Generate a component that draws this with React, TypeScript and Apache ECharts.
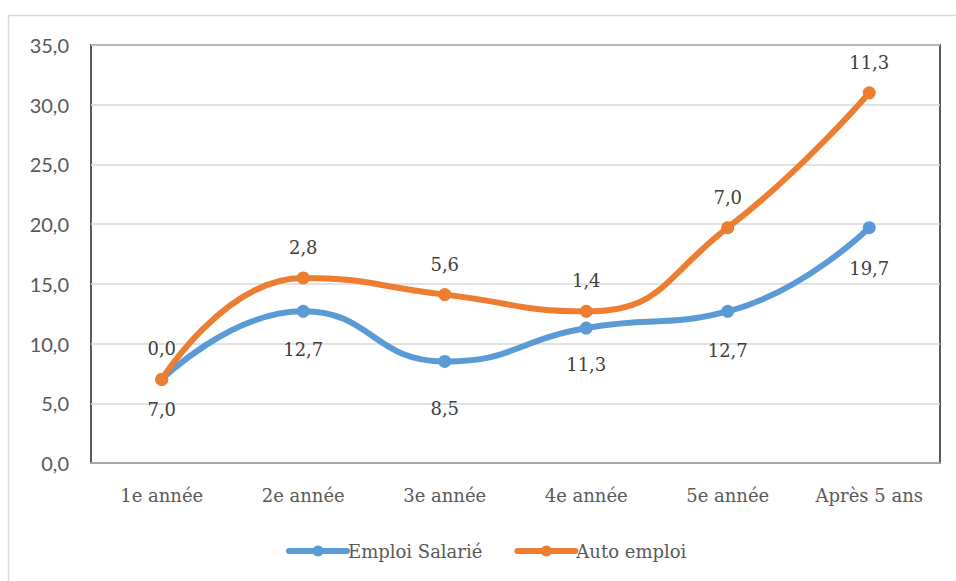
import React, { useEffect, useRef } from "react";
import * as echarts from "echarts";

const categories = ["1e année", "2e année", "3e année", "4e année", "5e année", "Après 5 ans"];
const salarie = [7.0, 12.7, 8.5, 11.3, 12.7, 19.7];
const autoEmploi = [0.0, 2.8, 5.6, 1.4, 7.0, 11.3];

// label gaps below the blue points (style only)
const salarieLabelGap = [15, 23, 32, 21, 24, 25];

const serif = "'DejaVu Serif', 'Liberation Serif', serif";
const sans = "Lato, 'Noto Sans', sans-serif";
const fmt = (v: number) => v.toFixed(1).replace(".", ",");

export default function App() {
  const ref = useRef<HTMLDivElement>(null);
  useEffect(() => {
    if (!ref.current) return;
    const chart = echarts.init(ref.current, null, { renderer: "svg" });
    chart.setOption({
      animation: false,
      backgroundColor: "#ffffff",
      graphic: [
        {
          type: "polyline",
          shape: { points: [[8.5, 600], [8.5, 15.5], [956, 15.5]] },
          style: { stroke: "#d9d9d9", lineWidth: 1.5, fill: "none" },
          silent: true,
          z: -1,
        },
      ],
      grid: {
        left: 91,
        right: 16,
        top: 45,
        bottom: 118,
        show: true,
        borderColor: "#595959",
        borderWidth: 2,
      },
      legend: {
        bottom: 16,
        left: 281,
        itemWidth: 58,
        itemHeight: 14,
        itemGap: 32,
        lineStyle: { width: 6 },
        textStyle: { fontFamily: serif, fontSize: 18, color: "#595959", padding: [0, 0, 0, -4] },
        data: ["Emploi Salarié", "Auto emploi"],
      },
      xAxis: {
        type: "category",
        data: categories,
        boundaryGap: true,
        axisLine: { show: true, lineStyle: { color: "#a6a6a6", width: 2 } },
        axisTick: { show: false },
        axisLabel: { fontFamily: serif, fontSize: 18, color: "#595959", margin: 23 },
      },
      yAxis: {
        type: "value",
        min: 0,
        max: 35,
        interval: 5,
        axisLine: { show: false },
        axisTick: { show: false },
        splitLine: { lineStyle: { color: "#d9d9d9", width: 1.5 } },
        axisLabel: {
          fontFamily: sans,
          fontSize: 20,
          color: "#595959",
          margin: 22,
          formatter: (v: number) => fmt(v),
        },
      },
      series: [
        {
          name: "Emploi Salarié",
          type: "line",
          stack: "total",
          data: salarie.map((v, i) => ({ value: v, label: { distance: salarieLabelGap[i] } })),
          smooth: 0.5,
          symbol: "circle",
          symbolSize: 13,
          color: "#5b9bd5",
          lineStyle: { width: 6, color: "#5b9bd5", cap: "round" },
          itemStyle: { color: "#5b9bd5" },
          label: {
            show: true,
            position: "bottom",
            distance: 15,
            fontFamily: serif,
            fontSize: 18,
            color: "#404040",
            formatter: (p: any) => fmt(p.value),
          },
          z: 2,
        },
        {
          name: "Auto emploi",
          type: "line",
          stack: "total",
          data: autoEmploi,
          smooth: 0.5,
          symbol: "circle",
          symbolSize: 13,
          color: "#ed7d31",
          lineStyle: { width: 6, color: "#ed7d31", cap: "round" },
          itemStyle: { color: "#ed7d31" },
          label: {
            show: true,
            position: "top",
            distance: 15,
            fontFamily: serif,
            fontSize: 18,
            color: "#404040",
            formatter: (p: any) => fmt(p.value),
          },
          z: 3,
        },
      ],
    });
    return () => chart.dispose();
  }, []);
  return (
    <div
      ref={ref}
      style={{ position: "fixed", left: 0, top: 0, width: 956, height: 581 }}
    />
  );
}
